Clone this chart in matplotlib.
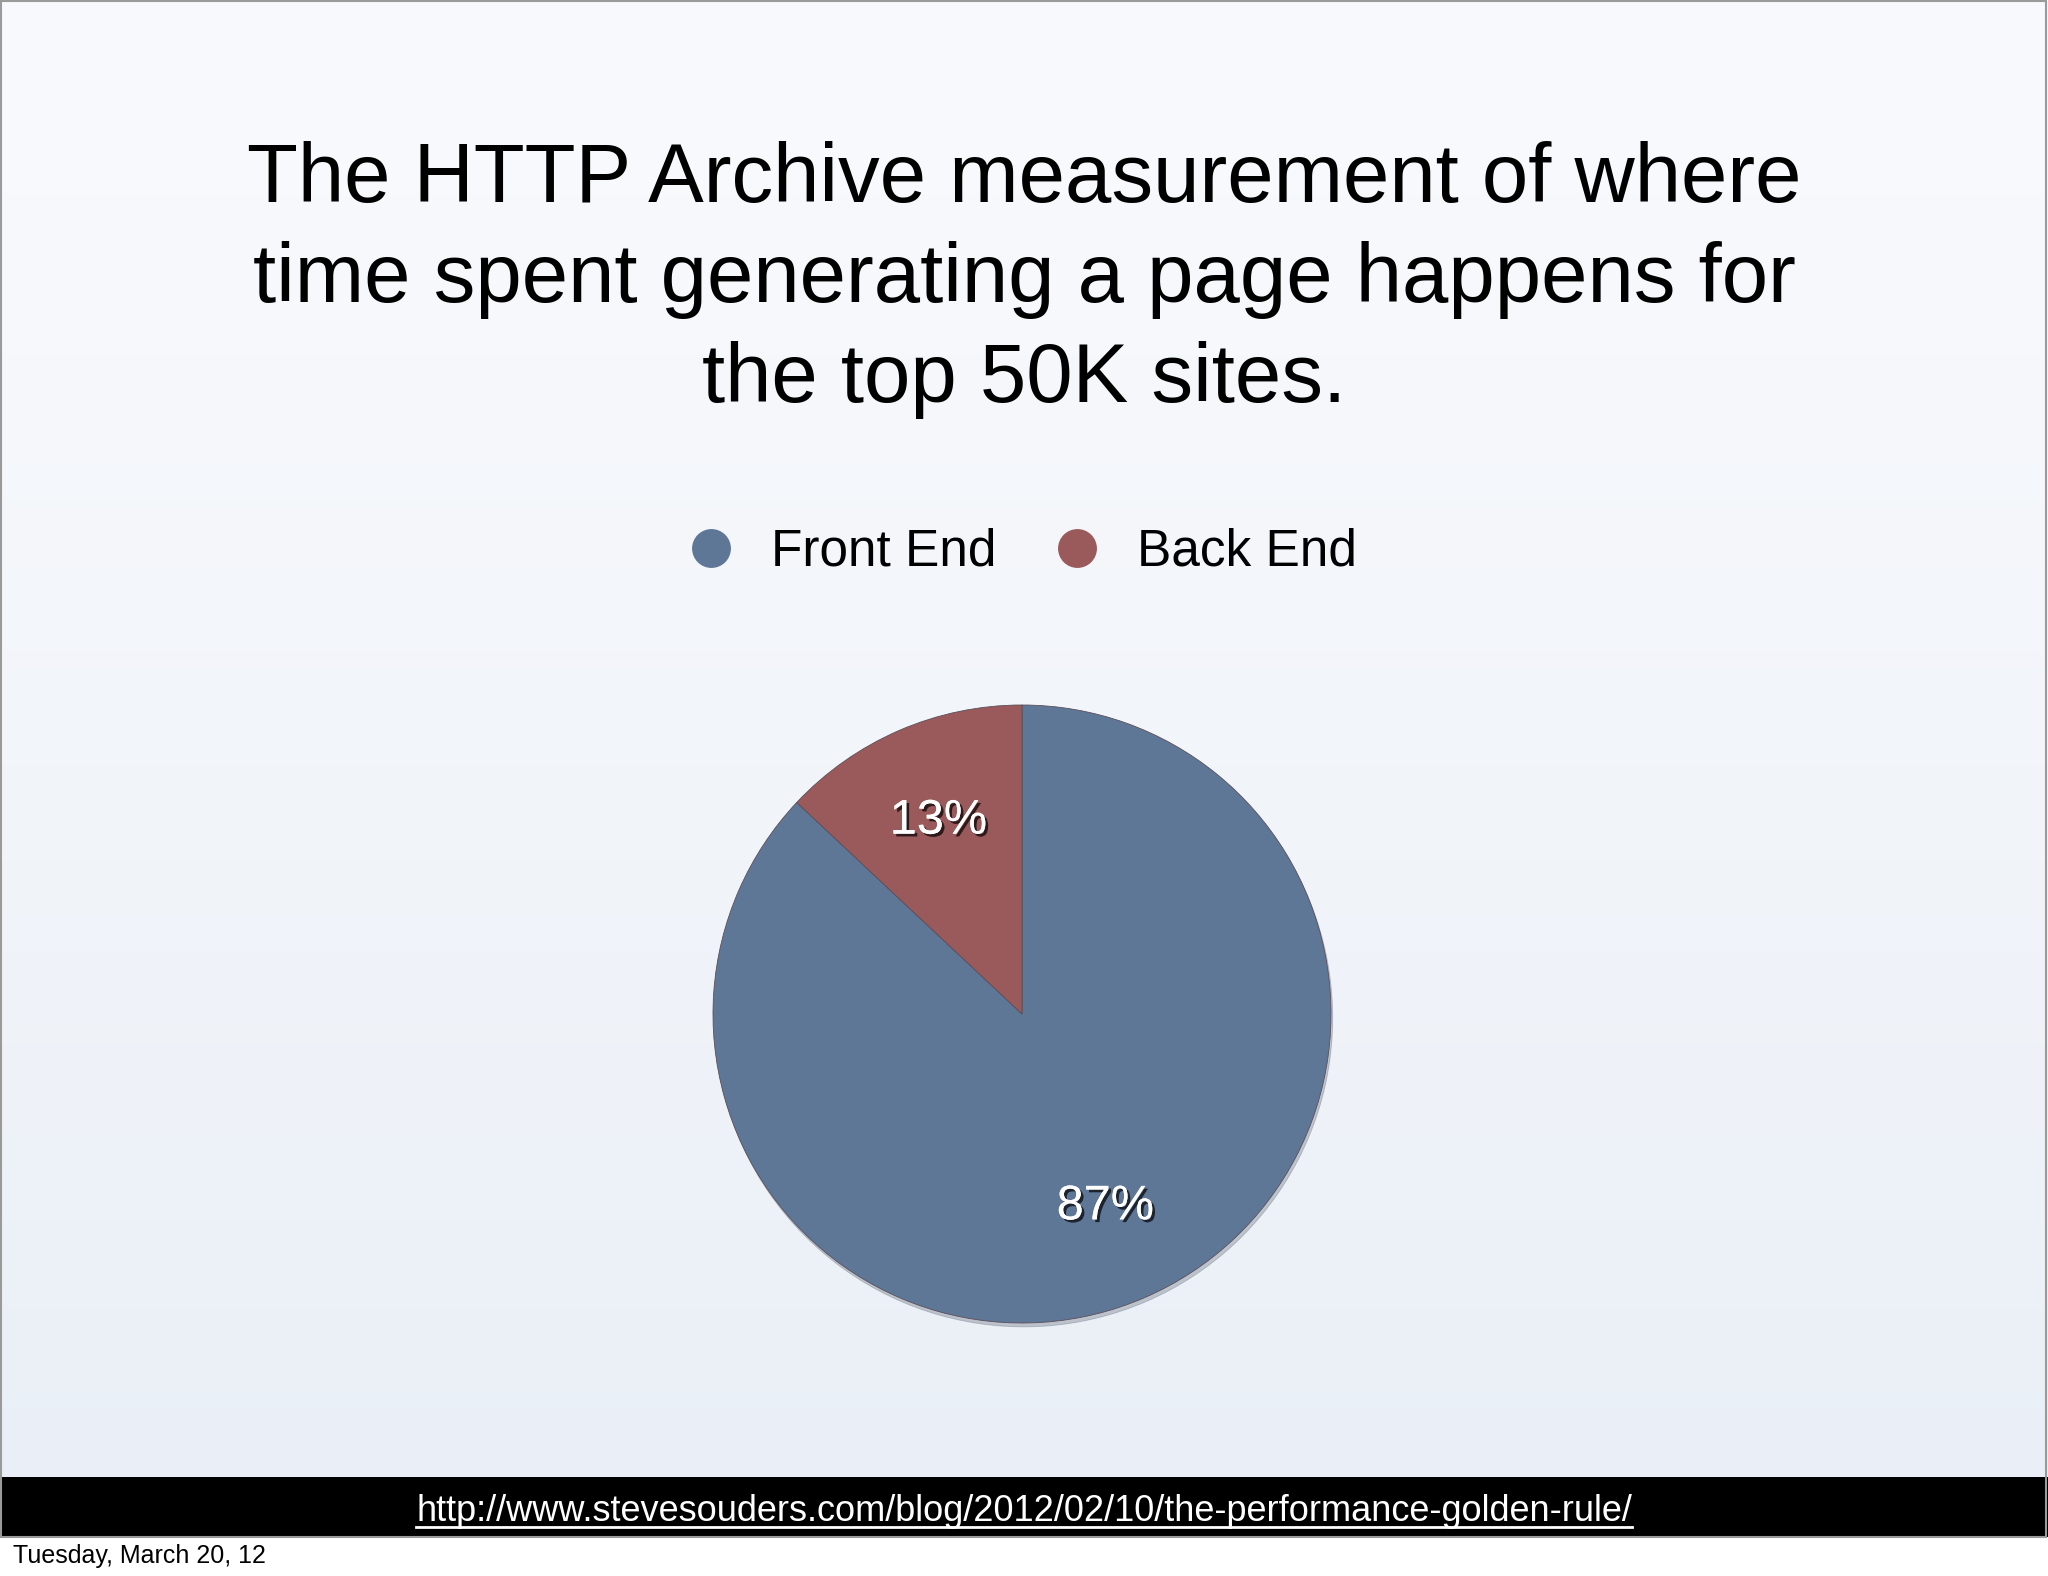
import numpy as np
import matplotlib
matplotlib.use('Agg')
import matplotlib.pyplot as plt
from matplotlib.lines import Line2D
from matplotlib.patches import Rectangle
import matplotlib.patheffects as pe

# ---- data ----
title_lines = ["The HTTP Archive measurement of where",
               "time spent generating a page happens for",
               "the top 50K sites."]
categories = ["Front End", "Back End"]
shares = [87, 13]
colors = ["#5f7797", "#9a5a5c"]
url_text = "http://www.stevesouders.com/blog/2012/02/10/the-performance-golden-rule/"
date_text = "Tuesday, March 20, 12"

plt.rcParams['font.family'] = ['Liberation Sans', 'DejaVu Sans']

W, H = 2048, 1576
DPI = 100
fig = plt.figure(figsize=(W / DPI, H / DPI), dpi=DPI)
fig.patch.set_facecolor('white')

# ---- slide background ----
bg = fig.add_axes([0, 0, 1, 1])
bg.axis('off')
slide_bottom = 1537
grad = np.linspace(0, 1, 256)[:, None, None]
top = np.array([0.975, 0.98, 0.99])
bot = np.array([0.915, 0.937, 0.968])
img = top + (bot - top) * grad ** 1.2
img = np.repeat(img, 2, axis=1)
bg.imshow(img, extent=(0, W, slide_bottom, 0), aspect='auto', zorder=0,
          interpolation='bilinear')
bg.add_patch(Rectangle((0, 1477), W, slide_bottom - 1477, facecolor='black',
                       edgecolor='none', zorder=1))
bg.add_patch(Rectangle((1, 1), W - 3, slide_bottom - 1, facecolor='none',
                       edgecolor='#9a9a9a', lw=1.5, zorder=2))
bg.set_xlim(0, W)
bg.set_ylim(H, 0)

# ---- title ----
for i, line in enumerate(title_lines):
    fig.text(0.5, 1 - (202 + 100 * i) / H, line, ha='center', va='baseline',
             fontsize=60, color='black')

# ---- pie ----
cx, cy, r = 1022, 1014, 309
half = 350
ax = fig.add_axes([(cx - half) / W, (H - cy - half) / H, 2 * half / W, 2 * half / H])
wedges, texts, autotexts = ax.pie(
    shares, colors=colors, startangle=90, counterclock=False,
    autopct=lambda p: f"{p:.0f}%", pctdistance=0.68, radius=1,
    shadow={'ox': 0.004, 'oy': -0.009, 'shade': 0.5, 'alpha': 0.25},
    wedgeprops={'linewidth': 0.6, 'edgecolor': '#5a4e5a'},
    textprops={'fontsize': 35, 'color': 'white'})
for t in autotexts:
    t.set_path_effects([pe.withSimplePatchShadow(offset=(2, -2),
                                                 shadow_rgbFace='black', alpha=0.7),
                        pe.Normal()])
lim = half / r
ax.set_xlim(-lim, lim)
ax.set_ylim(-lim, lim)
ax.set_aspect('equal')
ax.axis('off')

# ---- legend ----
handles = [Line2D([], [], marker='o', linestyle='none', markersize=28,
                  markerfacecolor=c, markeredgecolor='none') for c in colors]
fig.legend(handles, categories, loc='center', bbox_to_anchor=(0.5, 1 - 552 / H),
           ncol=2, frameon=False, fontsize=37, handlelength=0.8,
           handletextpad=0.77, columnspacing=1.17, borderpad=0)

# ---- footer ----
url_base = 1521
ut = fig.text(0.5, 1 - url_base / H, url_text, ha='center', va='baseline',
              fontsize=26, color='white')
fig.text(13 / W, 1 - 1563 / H, date_text, ha='left', va='baseline',
         fontsize=18, color='black')

fig.canvas.draw()
bb = ut.get_window_extent(fig.canvas.get_renderer())
yy = (H - url_base - 6) / H
fig.add_artist(Line2D([bb.x0 / W, bb.x1 / W], [yy, yy], transform=fig.transFigure,
                      color='white', lw=2))

fig.savefig('out.png', dpi=DPI)
